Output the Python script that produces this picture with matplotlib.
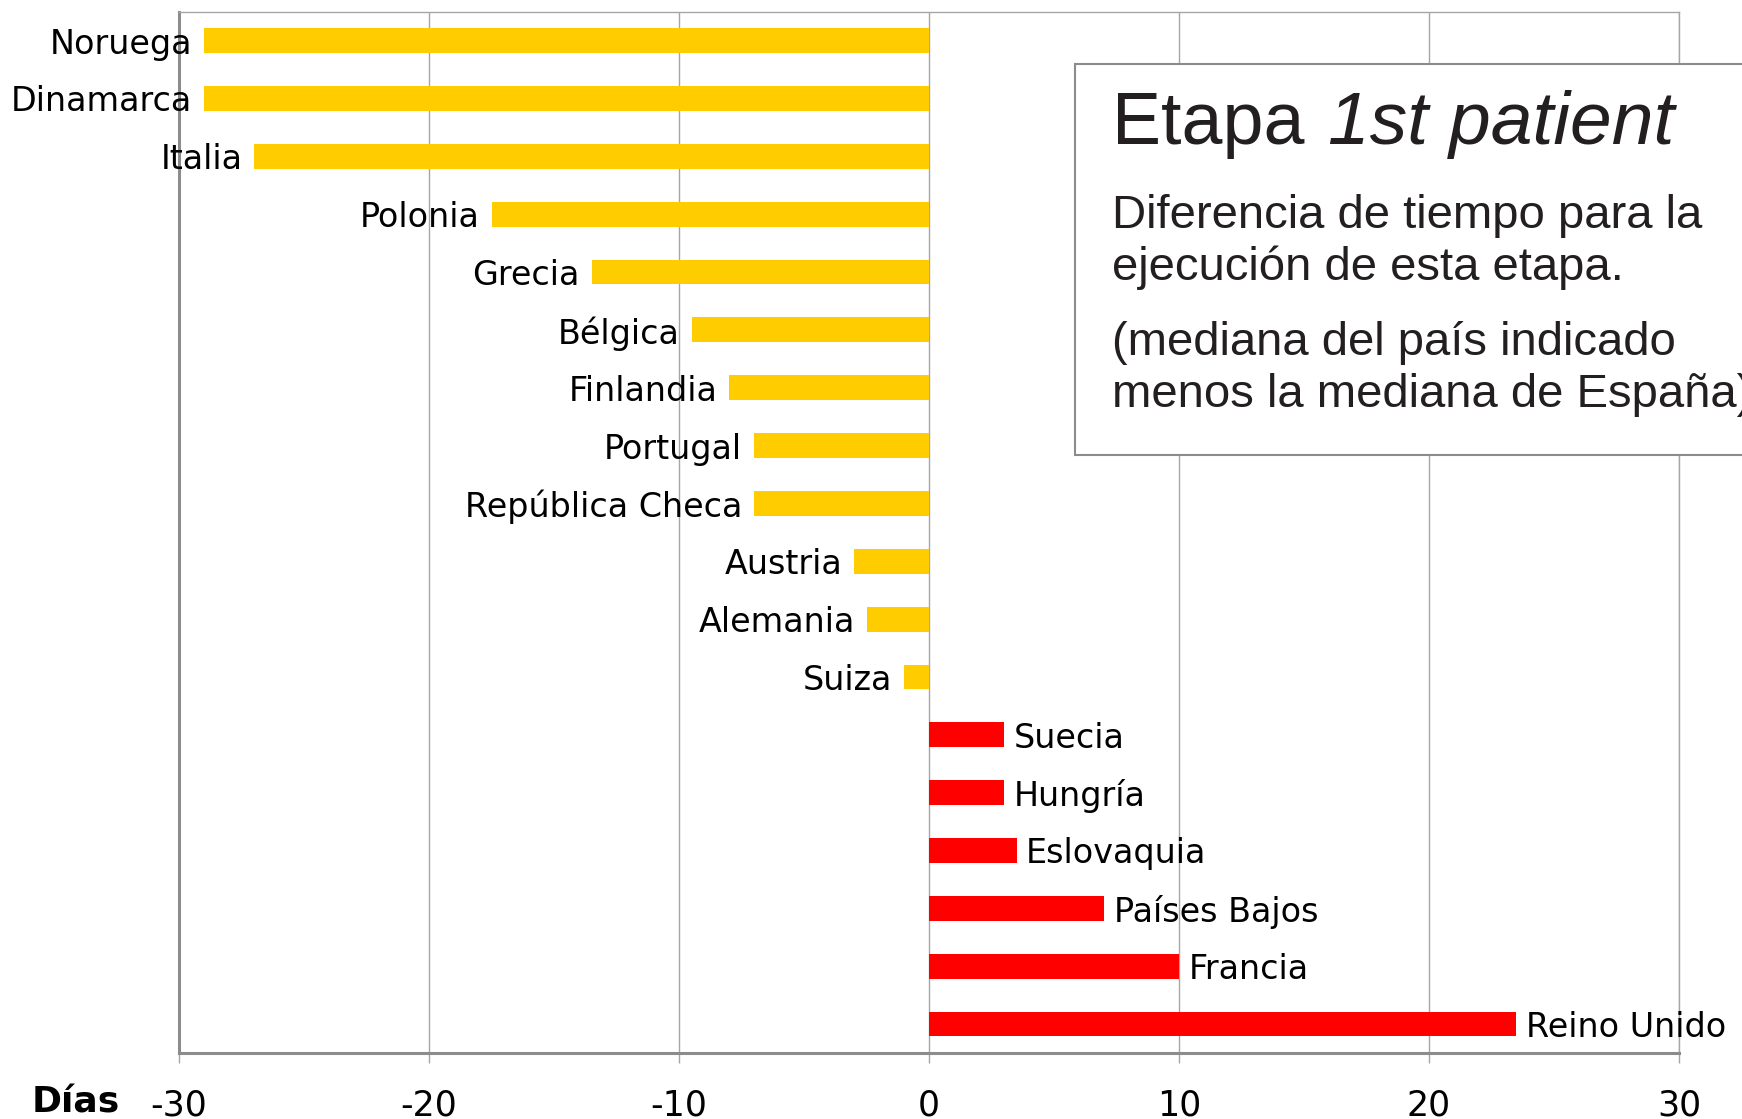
import matplotlib
matplotlib.use("Agg")
import matplotlib.pyplot as plt
from matplotlib.patches import Rectangle

# Countries (top to bottom) and difference in days vs. Spain's median
countries = ["Noruega", "Dinamarca", "Italia", "Polonia", "Grecia", "Bélgica",
             "Finlandia", "Portugal", "República Checa", "Austria", "Alemania",
             "Suiza", "Suecia", "Hungría", "Eslovaquia", "Países Bajos",
             "Francia", "Reino Unido"]
dias = [-29, -29, -27, -17.5, -13.5, -9.5, -8, -7, -7, -3, -2.5, -1,
        3, 3, 3.5, 7, 10, 23.5]
xticks = [-30, -20, -10, 0, 10, 20, 30]

YELLOW = "#FFCC00"
RED = "#FF0000"
GRID = "#A6A6A6"
FRAME = "#8C8C8C"
TEXT = "#231F20"

fig = plt.figure(figsize=(17.42, 11.19), dpi=100)
ax = fig.add_axes([0.1028, 0.0590, 0.8610, 0.9306])

ypos = list(range(len(countries)))
colors = [YELLOW if v < 0 else RED for v in dias]
ax.barh(ypos, dias, height=0.43, color=colors, zorder=2)

ax.set_ylim(len(countries) - 0.5, -0.5)
ax.set_xlim(-30, 30)
ax.set_xticks(xticks)
ax.set_xticklabels([str(t) for t in xticks], fontsize=25, family="DejaVu Sans")
ax.set_yticks([])
ax.tick_params(axis="x", length=7.5, width=1, color=GRID, pad=18)

ax.grid(axis="x", color=GRID, linewidth=1, zorder=0)
ax.set_axisbelow(True)
for side in ("top", "right"):
    ax.spines[side].set_color(GRID)
    ax.spines[side].set_linewidth(1)
for side in ("left", "bottom"):
    ax.spines[side].set_color(FRAME)
    ax.spines[side].set_linewidth(2.2)

# Country labels beside each bar end
for y, (name, v) in enumerate(zip(countries, dias)):
    off = -8.5 if v < 0 else 7
    ax.annotate(name, xy=(v, y), xytext=(off, 0), textcoords="offset points",
                ha="right" if v < 0 else "left", va="center_baseline",
                fontsize=24, family="DejaVu Sans", color="black",
                annotation_clip=False, zorder=4)

fig.text(0.0184, 0.0054, "Días", fontsize=26, fontweight="bold",
         family="DejaVu Sans", ha="left", va="baseline")

# Explanatory panel
box = Rectangle((0.6171, 0.5934), 0.45, 0.3494, transform=fig.transFigure,
                facecolor="white", edgecolor=FRAME, linewidth=1.5,
                zorder=10, clip_on=False)
fig.patches.append(box)

bf = "Liberation Sans"
fig.text(0.6384, 1 - 144 / 1119, "Etapa", fontsize=53, family=bf,
         color=TEXT, ha="left", va="baseline", zorder=11)
fig.text(0.7623, 1 - 144 / 1119, "1st patient", fontsize=54, family=bf,
         style="italic", color=TEXT, ha="left", va="baseline", zorder=11)
body = [("Diferencia de tiempo para la", 228),
        ("ejecución de esta etapa.", 280),
        ("(mediana del país indicado", 355),
        ("menos la mediana de España)", 407)]
for line, yb in body:
    fig.text(0.6384, 1 - yb / 1119, line, fontsize=34, family=bf,
             color=TEXT, ha="left", va="baseline", zorder=11)

fig.savefig("out.png", dpi=100)
